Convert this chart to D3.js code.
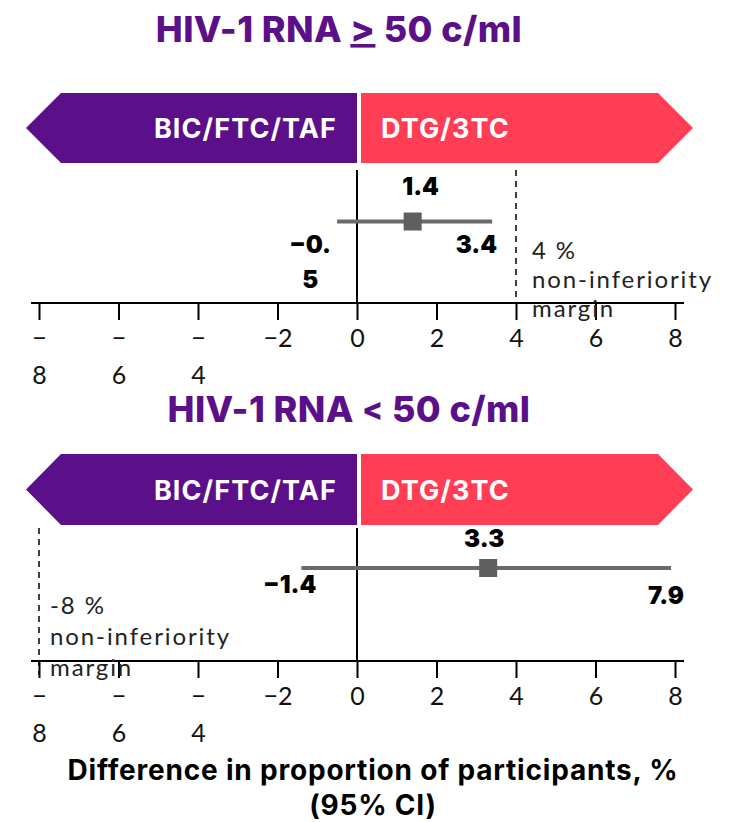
<!DOCTYPE html>
<html>
<head>
<meta charset="utf-8">
<script src="https://cdn.jsdelivr.net/npm/d3@7"></script>
<style>
  html, body { margin: 0; padding: 0; background: #fff; }
  svg { display: block; }
</style>
</head>
<body>
<svg id="chart" width="731" height="822"></svg>
<script>
// Forest plot: treatment difference with 95% CI, BIC/FTC/TAF vs DTG/3TC

const titleLead = ["HIV-1 RNA", "HIV-1 RNA"];
const titleOperator = [">", "<"];          // the first one is drawn underlined (≥)
const titleTail = ["50 c/ml", "50 c/ml"];
const arms = ["BIC/FTC/TAF", "DTG/3TC"];
const estimates = [1.4, 3.3];
const ciLower = [-0.5, -1.4];
const ciUpper = [3.4, 7.9];
const margins = [4, -8];
const marginLabels = [["4 %", "non-inferiority", "margin"], ["-8 %", "non-inferiority", "margin"]];
const tickValues = [-8, -6, -4, -2, 0, 2, 4, 6, 8];
const axisTitle = ["Difference in proportion of participants, %", "(95% CI)"];

const PURPLE = "#5b1089";
const RED = "#ff3e55";
const GREY = "#6a6a6a";
const BOLD_FONT = "Inter, 'Open Sans', sans-serif";
const LIGHT_FONT = "Lato, 'Open Sans', sans-serif";

// vertical layout of each panel and label offsets around the estimate
const layout = [
  { titleX: 339, title: 42, bannerTop: 93, bannerBottom: 163, plotTop: 170, pointY: 221.5, axisY: 303,
    est: [8, -27], lo: [-27, 31, "middle", 3], hi: [5, 31, "end"],
    marginLabel: [16, 37, 29] },
  { titleX: 349, title: 422, bannerTop: 454, bannerBottom: 525, plotTop: 528, pointY: 568, axisY: 661,
    est: [-4, -21], lo: [15, 25, "end", 0], hi: [13, 36, "end"],
    marginLabel: [11, 46, 31] }
];

const svg = d3.select("#chart");
const x = d3.scaleLinear().domain([-8, 8]).range([39, 675]);
const fmt = d3.format(".1f");

layout.forEach((L, i) => {
  const g = svg.append("g");

  // panel title
  const t = g.append("text")
    .attr("x", L.titleX).attr("y", L.title)
    .attr("text-anchor", "middle")
    .attr("font-family", BOLD_FONT).attr("font-weight", 800)
    .attr("font-size", 36).attr("fill", PURPLE)
    .attr("letter-spacing", 0.4);
  t.append("tspan").text(titleLead[i] + " ");
  t.append("tspan")
    .attr("font-size", i === 0 ? 36 : 31)
    .attr("dy", i === 0 ? 0 : -2)
    .attr("text-decoration", i === 0 ? "underline" : null)
    .text(titleOperator[i]);
  t.append("tspan").attr("dy", i === 0 ? 0 : 2).text(" " + titleTail[i]);

  // arm banner: left arrow (purple) and right arrow (red)
  const mid = (L.bannerTop + L.bannerBottom) / 2;
  const x0 = x(0);
  g.append("path")
    .attr("d", d3.line()([
      [x0, L.bannerTop], [x(-8) + 22, L.bannerTop], [x(-8) - 13, mid],
      [x(-8) + 22, L.bannerBottom], [x0, L.bannerBottom]
    ]) + "Z")
    .attr("fill", PURPLE);
  g.append("path")
    .attr("d", d3.line()([
      [x0 + 4, L.bannerTop], [x(8) - 17, L.bannerTop], [x(8) + 18, mid],
      [x(8) - 17, L.bannerBottom], [x0 + 4, L.bannerBottom]
    ]) + "Z")
    .attr("fill", RED);
  const armText = (label) => g.append("text")
    .attr("y", mid + 10)
    .attr("font-family", BOLD_FONT).attr("font-weight", 700)
    .attr("font-size", 27).attr("fill", "#fff")
    .attr("letter-spacing", 1.1)
    .text(label);
  armText(arms[0]).attr("x", x0 - 20).attr("text-anchor", "end");
  armText(arms[1]).attr("x", x0 + 24).attr("text-anchor", "start");

  // x axis
  const axis = d3.axisBottom(x).tickValues(tickValues).tickSize(17).tickSizeOuter(0);
  const ax = g.append("g").attr("transform", `translate(0,${L.axisY})`).call(axis);
  ax.select(".domain").remove();
  ax.selectAll(".tick line").attr("stroke", "#000").attr("stroke-width", 2);
  ax.selectAll(".tick text").each(function (d) {
    const txt = d3.select(this)
      .attr("y", null).attr("dy", null)
      .attr("font-family", LIGHT_FONT).attr("font-size", 25)
      .attr("fill", "#111").text(null);
    const s = d < 0 ? "−" + Math.abs(d) : String(d);
    const lines = d <= -4 ? [s.slice(0, 1), s.slice(1)] : [s];
    lines.forEach((ln, k) => {
      txt.append("tspan").attr("x", 0).attr("y", 44 + k * 37).text(ln);
    });
  });
  g.append("line")
    .attr("x1", x(-8) - 8).attr("x2", x(8) + 9)
    .attr("y1", L.axisY).attr("y2", L.axisY)
    .attr("stroke", "#000").attr("stroke-width", 2);

  // zero reference line
  g.append("line")
    .attr("x1", x0).attr("x2", x0)
    .attr("y1", L.plotTop).attr("y2", L.axisY)
    .attr("stroke", "#000").attr("stroke-width", 2);

  // non-inferiority margin
  g.append("line")
    .attr("x1", x(margins[i])).attr("x2", x(margins[i]))
    .attr("y1", L.plotTop).attr("y2", L.axisY + (i === 1 ? 14 : 0))
    .attr("stroke", "#000").attr("stroke-width", 1.5)
    .attr("stroke-dasharray", "6,5");
  const ml = g.append("text")
    .attr("font-family", LIGHT_FONT).attr("font-size", 24).attr("fill", "#222")
    .attr("letter-spacing", 1.9);
  marginLabels[i].forEach((ln, k) => {
    ml.append("tspan")
      .attr("x", x(margins[i]) + L.marginLabel[0])
      .attr("y", L.pointY + L.marginLabel[1] + k * L.marginLabel[2])
      .text(ln);
  });

  // confidence interval and point estimate
  g.append("line")
    .attr("x1", x(ciLower[i])).attr("x2", x(ciUpper[i]))
    .attr("y1", L.pointY).attr("y2", L.pointY)
    .attr("stroke", GREY).attr("stroke-width", 4);
  g.append("rect")
    .attr("x", x(estimates[i]) - 9).attr("y", L.pointY - 9)
    .attr("width", 18).attr("height", 18)
    .attr("fill", "#5f5f5f");

  // value labels
  const boldText = () => g.append("text")
    .attr("font-family", BOLD_FONT).attr("font-weight", 900)
    .attr("font-size", 24).attr("fill", "#000");
  boldText()
    .attr("x", x(estimates[i]) + L.est[0]).attr("y", L.pointY + L.est[1])
    .attr("text-anchor", "middle")
    .text(fmt(estimates[i]));
  boldText()
    .attr("x", x(ciUpper[i]) + L.hi[0]).attr("y", L.pointY + L.hi[1])
    .attr("text-anchor", L.hi[2])
    .text(fmt(ciUpper[i]));
  const loStr = fmt(ciLower[i]);
  const loLines = L.lo[3] ? [loStr.slice(0, L.lo[3]), loStr.slice(L.lo[3])] : [loStr];
  const lo = boldText().attr("text-anchor", L.lo[2]);
  loLines.forEach((ln, k) => {
    lo.append("tspan")
      .attr("x", x(ciLower[i]) + L.lo[0])
      .attr("y", L.pointY + L.lo[1] + k * 35)
      .text(ln);
  });
});

// shared axis title
const at = svg.append("text")
  .attr("text-anchor", "middle")
  .attr("font-family", BOLD_FONT).attr("font-weight", 700)
  .attr("font-size", 28).attr("fill", "#000")
  .attr("letter-spacing", 0.8);
axisTitle.forEach((ln, k) => {
  at.append("tspan").attr("x", 373).attr("y", 780 + k * 35).text(ln);
});
</script>
</body>
</html>
